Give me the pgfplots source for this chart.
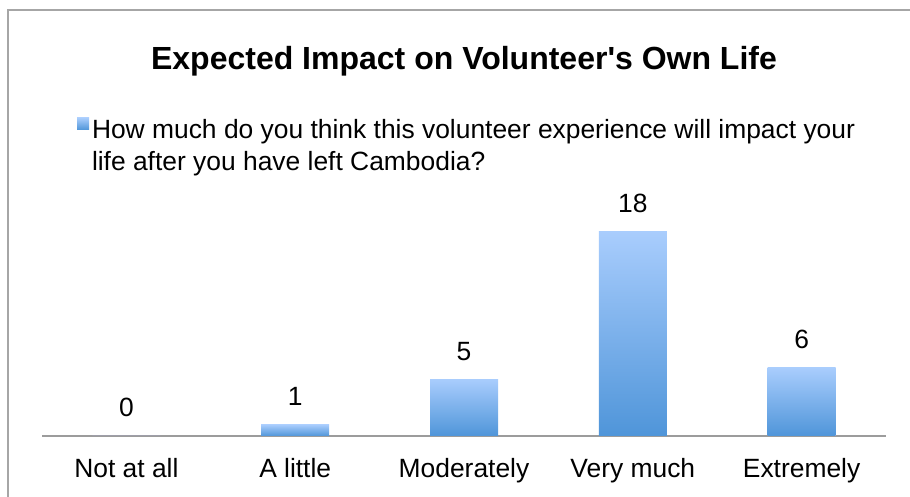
\documentclass[border=0pt]{standalone}
\usepackage{fontspec}
\setmainfont{Liberation Sans}
\usepackage{pgfplots}
\pgfplotsset{compat=1.18}
\definecolor{BarTop}{HTML}{A9CDFD}
\definecolor{BarBot}{HTML}{4F95D9}
\definecolor{FrameGray}{HTML}{A6A6A6}
\definecolor{AxisGray}{HTML}{9C9C9C}

\begin{document}
\begin{tikzpicture}
\useasboundingbox (-21pt,-30.5pt) rectangle (434pt,218pt);
\draw[FrameGray, line width=1pt] (-17pt,-30.5pt) -- (-17pt,213pt) -- (434pt,213pt);
\begin{axis}[
  at={(0,0)}, anchor=south west,
  scale only axis, width=422pt, height=123pt,
  xmin=-0.5, xmax=4.5, ymin=0, ymax=21.6,
  ybar, bar width=34pt, bar shift=0pt,
  axis x line*=bottom, axis y line=none,
  x axis line style={AxisGray, line width=1pt, -},
  xtick={0,1,2,3,4},
  xticklabels={Not at all, A little, Moderately, Very much, Extremely},
  major tick length=0pt,
  xticklabel style={font=\fontsize{13.2}{15}\selectfont, yshift=-7.8pt},
  /pgf/number format/assume math mode=true,
  nodes near coords,
  nodes near coords style={anchor=base, yshift=9.5pt, font=\fontsize{13.2}{15}\selectfont, black},
  every axis plot/.append style={draw=none, top color=BarTop, bottom color=BarBot},
  title={Expected Impact on Volunteer\textquotesingle s Own Life},
  title style={at={(0.5,1)}, anchor=center, yshift=58.5pt, font=\bfseries\fontsize{16}{19}\selectfont},
  legend style={at={(0.041,1.295)}, anchor=north west, draw=none, inner sep=0pt,
    font=\fontsize{13.2}{16}\selectfont, column sep=1.5pt,
    nodes={inner sep=0pt}, cells={align=left}},
  legend cell align=left,
  legend image code/.code={
    \fill[top color=BarTop, bottom color=BarBot] (0pt,8.2pt) rectangle (6pt,14.2pt);
  },
]
% one plot per bar so that each bar gets its own gradient
\addplot coordinates {(0,0)};
\addlegendentry{How much do you think this volunteer experience will impact your\\life after you have left Cambodia?}
\addplot+[forget plot] coordinates {(1,1)};
\addplot+[forget plot] coordinates {(2,5)};
\addplot+[forget plot] coordinates {(3,18)};
\addplot+[forget plot] coordinates {(4,6)};
\end{axis}
\end{tikzpicture}
\end{document}
